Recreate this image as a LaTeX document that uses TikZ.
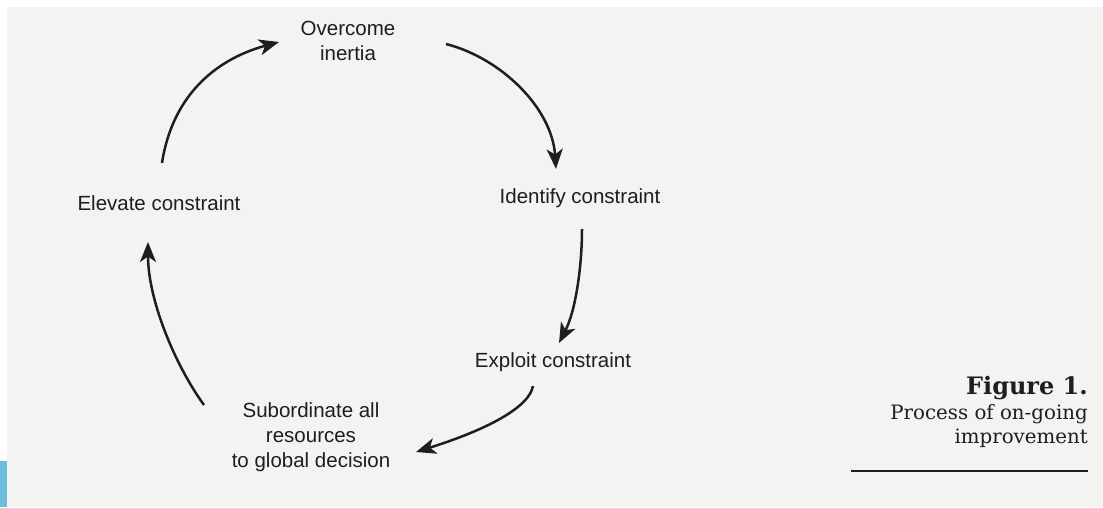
\documentclass[tikz,border=0pt]{standalone}
\usepackage{fontspec}
\setmainfont{Liberation Sans}
\newfontfamily\capfont{DejaVu Serif}
\usetikzlibrary{arrows.meta}
\definecolor{paper}{RGB}{243,243,241}
\definecolor{ink}{RGB}{30,30,30}
\definecolor{tab}{RGB}{108,188,220}
\tikzset{
  stage/.style={text=ink, align=center, inner sep=0pt,
    font=\fontsize{20.5}{25}\selectfont},
  cycarrow/.style={draw=ink, line width=2.5pt,
    -{Stealth[length=20pt,width=16pt,inset=5.5pt]}},
  caption/.style={text=ink, anchor=base east, inner sep=0pt}
}
\begin{document}
\begin{tikzpicture}[x=1pt,y=-1pt]
  % page and scanned background
  \useasboundingbox (0,0) rectangle (1103,507);
  \fill[white] (0,0) rectangle (1103,507);
  \fill[paper] (7,7) rectangle (1103,507);
  \fill[tab] (0,461) rectangle (7,507);

  % stages of the cycle
  \node[stage] (over) at (348,41) {Overcome\\inertia};
  \node[stage] (ident) at (580,198) {Identify constraint};
  \node[stage] (expl) at (553,362) {Exploit constraint};
  \node[stage] (subord) at (311,437) {Subordinate all\\resources\\to global decision};
  \node[stage] (elev) at (159,203) {Elevate constraint};

  % arrow end points
  \coordinate (e1s) at (162,163);  \coordinate (e1e) at (279,42);
  \coordinate (e2s) at (446,44);   \coordinate (e2e) at (556,169);
  \coordinate (e3s) at (582,229);  \coordinate (e3e) at (559,343);
  \coordinate (e4s) at (533,386);  \coordinate (e4e) at (416,452);
  \coordinate (e5s) at (204,405);  \coordinate (e5e) at (148,242);

  % connectors
  \draw[cycarrow] (e1s) .. controls (172,98) and (213,60) .. (e1e);
  \draw[cycarrow] (e2s) .. controls (501,58) and (552,108) .. (e2e);
  \draw[cycarrow] (e3s) .. controls (582,265) and (576,310) .. (e3e);
  \draw[cycarrow] (e4s) .. controls (528,412) and (470,435) .. (e4e);
  \draw[cycarrow] (e5s) .. controls (175,365) and (148,300) .. (e5e);

  % figure caption
  \node[caption, font=\capfont\bfseries\fontsize{24}{25}\selectfont] (fig) at (1088,394) {Figure 1.};
  \node[caption, font=\capfont\fontsize{19.8}{25}\selectfont] (cap1) at (1088,419) {Process of on-going};
  \node[caption, font=\capfont\fontsize{19.8}{25}\selectfont] (cap2) at (1088,443) {improvement};
  \coordinate (rl) at (851,471);
  \coordinate (rr) at (1088,471);
  \draw[ink, line width=1.3pt] (rl) -- (rr);
\end{tikzpicture}
\end{document}
